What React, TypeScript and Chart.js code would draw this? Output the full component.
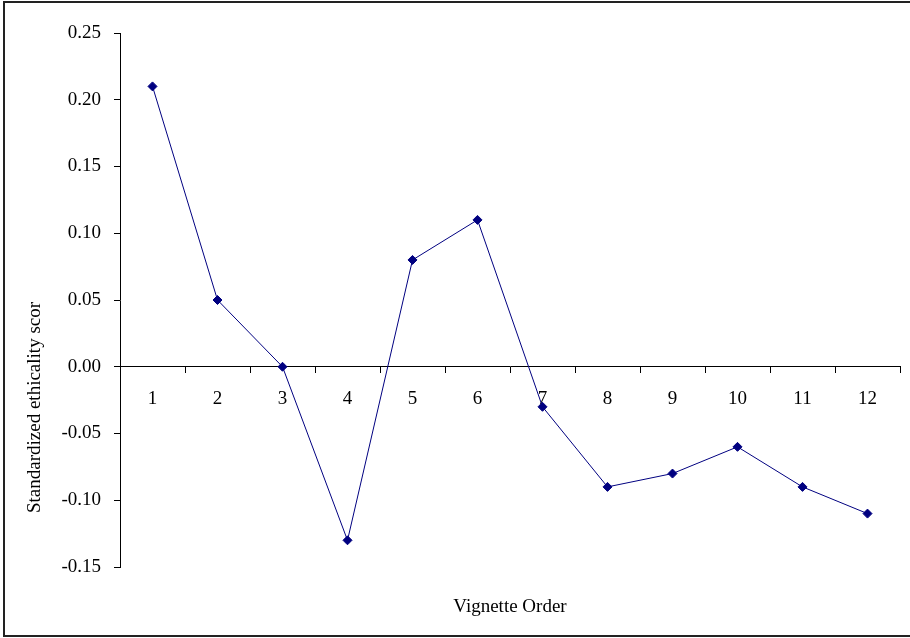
import React, { useEffect, useRef } from "react";
import { Chart, registerables } from "chart.js";

Chart.register(...registerables);

const categories = ["1", "2", "3", "4", "5", "6", "7", "8", "9", "10", "11", "12"];
const scores = [0.21, 0.05, 0.0, -0.13, 0.08, 0.11, -0.03, -0.09, -0.08, -0.06, -0.09, -0.11];
const yMin = -0.15;
const yMax = 0.25;
const yStep = 0.05;
const xTitle = "Vignette Order";
const yTitle = "Standardized ethicality scor";

const FONT_FAMILY = '"Liberation Serif", "Times New Roman", serif';
const FONT_SIZE = 19;
const NAVY = "#000080";

const axisTitlesPlugin = {
  id: "axisTitles",
  afterDraw(chart: any) {
    const { ctx, chartArea } = chart;
    ctx.save();
    ctx.fillStyle = "#000";
    ctx.font = `${FONT_SIZE}px ${FONT_FAMILY}`;
    ctx.textAlign = "center";
    ctx.textBaseline = "alphabetic";
    ctx.fillText(xTitle, (chartArea.left + chartArea.right) / 2, 612);
    ctx.translate(39.5, 513);
    ctx.rotate(-Math.PI / 2);
    ctx.textAlign = "left";
    ctx.fillText(yTitle, 0, 0);
    ctx.restore();
  },
};

export default function App() {
  const canvasRef = useRef<HTMLCanvasElement | null>(null);

  useEffect(() => {
    if (!canvasRef.current) return;
    const chart = new Chart(canvasRef.current, {
      type: "line",
      data: {
        labels: categories,
        datasets: [
          {
            data: scores,
            borderColor: NAVY,
            backgroundColor: NAVY,
            borderWidth: 1,
            pointStyle: "rectRot",
            pointRadius: 4.5,
            pointBorderWidth: 1,
            pointBackgroundColor: NAVY,
            pointBorderColor: NAVY,
            tension: 0,
            fill: false,
          },
        ],
      },
      options: {
        animation: false,
        responsive: false,
        devicePixelRatio: 1,
        layout: { padding: { left: 0, top: 33, right: 10, bottom: 71 } },
        plugins: {
          legend: { display: false },
          tooltip: { enabled: false },
          title: { display: false },
        },
        scales: {
          x: {
            type: "category",
            position: { y: 0 } as any,
            offset: true,
            grid: {
              offset: true,
              drawOnChartArea: false,
              drawTicks: true,
              tickLength: 6,
              color: "#000",
            },
            border: { display: true, color: "#000", width: 1 },
            ticks: {
              color: "#000",
              padding: 15,
              maxRotation: 0,
              autoSkip: false,
              font: { family: FONT_FAMILY, size: FONT_SIZE },
            },
          },
          y: {
            type: "linear",
            min: yMin,
            max: yMax,
            grid: {
              drawOnChartArea: false,
              drawTicks: true,
              tickLength: 6,
              color: "#000",
            },
            border: { display: true, color: "#000", width: 1 },
            ticks: {
              stepSize: yStep,
              color: "#000",
              padding: 13,
              font: { family: FONT_FAMILY, size: FONT_SIZE },
              callback: (v: any) => Number(v).toFixed(2),
            },
            afterFit: (scale: any) => {
              scale.width = 120;
            },
          },
        },
      },
      plugins: [axisTitlesPlugin],
    });
    return () => chart.destroy();
  }, []);

  return (
    <div
      style={{
        position: "fixed",
        left: 0,
        top: 0,
        width: 910,
        height: 638,
        background: "#fff",
        overflow: "hidden",
      }}
    >
      <div
        style={{
          position: "absolute",
          left: 3,
          top: 1,
          width: 920,
          height: 632,
          border: "2px solid #222",
          borderRight: "none",
        }}
      />
      <canvas
        ref={canvasRef}
        width={910}
        height={638}
        style={{ position: "absolute", left: 0, top: 0, width: 910, height: 638 }}
      />
    </div>
  );
}
